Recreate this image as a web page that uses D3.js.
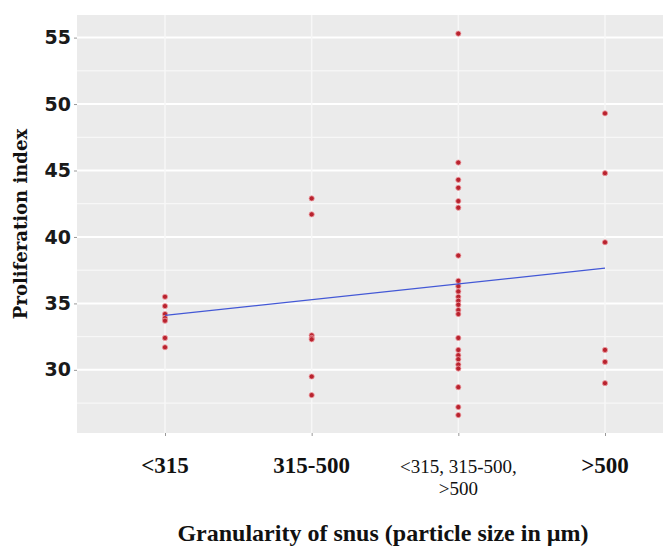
<!DOCTYPE html>
<html lang="en">
<head>
    <meta charset="UTF-8">
    <title>Proliferation index by granularity of snus</title>
    <script src="https://d3js.org/d3.v7.min.js"></script>
    <style>
        body { margin: 0; background: #fff; }
        .ytick { font-family: "DejaVu Sans", sans-serif; font-size: 19px; font-weight: bold; fill: #1a1a1a; }
        .xtick { font-family: "Liberation Serif", serif; font-size: 23px; font-weight: bold; fill: #111; }
        .xtick.small { font-size: 19px; font-weight: normal; }
        .ytitle { font-family: "DejaVu Serif", serif; font-size: 18px; font-weight: bold; fill: #111; }
        .xtitle { font-family: "Liberation Serif", serif; font-size: 24px; font-weight: bold; fill: #111; }
    </style>
</head>
<body>
    <svg id="chart" width="663" height="549"></svg>

    <script>
        // categories on the x axis
        const categories = ["<315", "315-500", "mixed", ">500"];
        const categoryLabels = [["<315"], ["315-500"], ["<315, 315-500,", ">500"], [">500"]];

        // proliferation index per snus
        const valuesSmall = [35.5, 34.8, 34.2, 33.9, 33.7, 32.4, 31.7];
        const valuesMedium = [42.9, 41.7, 32.6, 32.4, 32.3, 29.5, 28.1];
        const valuesMixed = [55.3, 45.6, 44.3, 43.7, 42.7, 42.2, 38.6,
                             36.7, 36.3, 35.9, 35.5, 35.2, 34.9, 34.5, 34.2,
                             32.4, 31.5, 31.1, 30.8, 30.4, 30.1, 28.7, 27.2, 26.6];
        const valuesLarge = [49.3, 44.8, 39.6, 31.5, 30.6, 29.0];
        const seriesValues = [valuesSmall, valuesMedium, valuesMixed, valuesLarge];

        // fitted regression line, value at first and last category
        const fitValues = [34.1, 37.65];

        const yMajorTicks = [30, 35, 40, 45, 50, 55];
        const yMinorTicks = [27.5, 32.5, 37.5, 42.5, 47.5, 52.5];

        const panel = { left: 77, right: 663, top: 15, bottom: 433 };

        const svg = d3.select("#chart");

        const x = d3.scalePoint()
            .domain(categories)
            .range([165, 605]);

        const y = d3.scaleLinear()
            .domain([25.25, 56.7])
            .range([panel.bottom, panel.top]);

        // panel background
        svg.append("rect")
            .attr("x", panel.left)
            .attr("y", panel.top)
            .attr("width", panel.right - panel.left)
            .attr("height", panel.bottom - panel.top)
            .attr("fill", "#ebebeb");

        // grid lines
        yMinorTicks.forEach(t => {
            svg.append("line")
                .attr("x1", panel.left).attr("x2", panel.right)
                .attr("y1", y(t)).attr("y2", y(t))
                .attr("stroke", "#fafafa").attr("stroke-width", 1);
        });
        yMajorTicks.forEach(t => {
            svg.append("line")
                .attr("x1", panel.left).attr("x2", panel.right)
                .attr("y1", y(t)).attr("y2", y(t))
                .attr("stroke", "#fff").attr("stroke-width", 2);
        });
        categories.forEach(c => {
            svg.append("line")
                .attr("x1", x(c)).attr("x2", x(c))
                .attr("y1", panel.top).attr("y2", panel.bottom)
                .attr("stroke", "#f7f7f7").attr("stroke-width", 1.5);
        });

        // y axis
        const yAxis = svg.append("g")
            .attr("transform", `translate(${panel.left},0)`)
            .call(d3.axisLeft(y).tickValues(yMajorTicks).tickSize(3).tickPadding(3));
        yAxis.select(".domain").remove();
        yAxis.selectAll(".tick line").attr("stroke", "#999");
        yAxis.selectAll(".tick text").attr("class", "ytick");
        yAxis.attr("font-size", null).attr("font-family", null);

        // x axis ticks
        const xAxis = svg.append("g")
            .attr("transform", `translate(0,${panel.bottom})`)
            .call(d3.axisBottom(x).tickSize(3).tickFormat(""));
        xAxis.select(".domain").remove();
        xAxis.selectAll(".tick line").attr("stroke", "#999");

        // x tick labels (one may span two lines)
        categories.forEach((c, i) => {
            const lines = categoryLabels[i];
            const t = svg.append("text")
                .attr("class", lines.length > 1 ? "xtick small" : "xtick")
                .attr("text-anchor", "middle")
                .attr("x", x(c))
                .attr("y", 473);
            lines.forEach((ln, j) => {
                t.append("tspan")
                    .attr("x", x(c))
                    .attr("dy", j === 0 ? 0 : 22)
                    .text(ln);
            });
        });

        // points
        categories.forEach((c, i) => {
            svg.selectAll(null)
                .data(seriesValues[i])
                .enter()
                .append("circle")
                .attr("cx", x(c))
                .attr("cy", d => y(d))
                .attr("r", 2.6)
                .attr("fill", "#b8232e")
                .attr("stroke", "#f0a0a6")
                .attr("stroke-width", 0.8);
        });

        // regression line
        svg.append("line")
            .attr("x1", x(categories[0]))
            .attr("y1", y(fitValues[0]))
            .attr("x2", x(categories[categories.length - 1]))
            .attr("y2", y(fitValues[1]))
            .attr("stroke", "#4358d6")
            .attr("stroke-width", 1.3);

        // axis titles
        svg.append("text")
            .attr("class", "ytitle")
            .attr("text-anchor", "middle")
            .attr("transform", `translate(27,${(panel.top + panel.bottom) / 2}) rotate(-90)`)
            .text("Proliferation index");

        svg.append("text")
            .attr("class", "xtitle")
            .attr("text-anchor", "middle")
            .attr("x", 383)
            .attr("y", 541)
            .text("Granularity of snus (particle size in \u00b5m)");
    </script>
</body>
</html>
